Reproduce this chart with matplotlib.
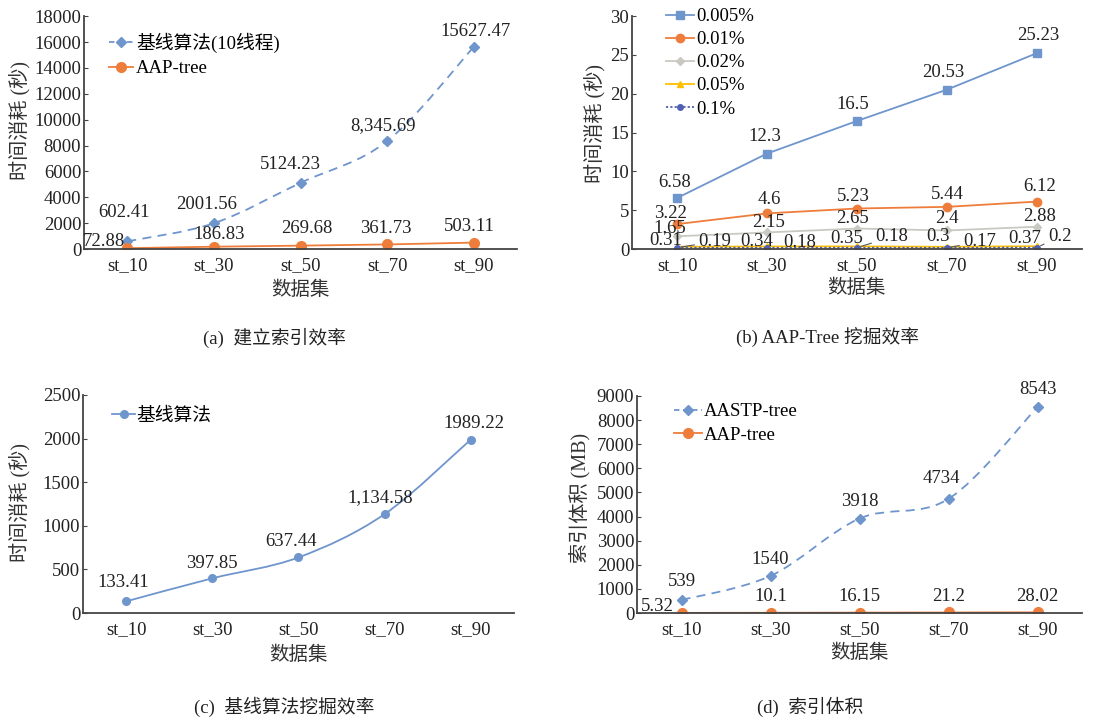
import numpy as np
import matplotlib
matplotlib.use('Agg')
import matplotlib.pyplot as plt
from matplotlib.path import Path
from matplotlib.patches import PathPatch
from matplotlib.lines import Line2D

plt.rcParams['font.family'] = ['Liberation Serif', 'Noto Sans CJK SC']
plt.rcParams['font.size'] = 13.5

datasets = ['st_10', 'st_30', 'st_50', 'st_70', 'st_90']

# (a) index build time (s)
build_baseline = [602.41, 2001.56, 5124.23, 8345.69, 15627.47]
build_aap = [72.88, 186.83, 269.68, 361.73, 503.11]

# (b) AAP-Tree mining time (s) per support threshold
support_labels = ['0.005%', '0.01%', '0.02%', '0.05%', '0.1%']
mine_005 = [6.58, 12.3, 16.5, 20.53, 25.23]
mine_01 = [3.22, 4.6, 5.23, 5.44, 6.12]
mine_02 = [1.65, 2.15, 2.65, 2.4, 2.88]
mine_05 = [0.31, 0.34, 0.35, 0.3, 0.37]
mine_1 = [0.19, 0.18, 0.18, 0.17, 0.2]

# (c) baseline mining time (s)
mine_baseline = [133.41, 397.85, 637.44, 1134.58, 1989.22]

# (d) index size (MB)
size_aastp = [539, 1540, 3918, 4734, 8543]
size_aap = [5.32, 10.1, 16.15, 21.2, 28.02]

BLUE = '#6f95cd'
ORANGE = '#ee7d3b'
GREY = '#c9c9c2'
YELLOW = '#ffc000'
NAVY = '#4f5fb3'
AXIS = '#444444'

x = np.arange(len(datasets))


def style_axes(ax, ymax, ystep):
    ax.set_xlim(-0.5, len(datasets) - 0.5)
    ax.set_ylim(0, ymax)
    ax.set_yticks(np.arange(0, ymax + 1e-9, ystep))
    ax.set_xticks(x)
    ax.set_xticklabels(datasets)
    for s in ('top', 'right'):
        ax.spines[s].set_visible(False)
    for s in ('left', 'bottom'):
        ax.spines[s].set_color(AXIS)
        ax.spines[s].set_linewidth(1.3)
    ax.tick_params(axis='x', length=0, pad=6, colors='#222222')
    ax.tick_params(axis='y', direction='in', length=3, pad=2, color=AXIS, colors='#222222')
    ax.patch.set_alpha(0)


def smooth(ax, xs, ys, **kw):
    # Bezier curve through the points, like a spreadsheet "smoothed line"
    pts = np.column_stack([xs, ys]).astype(float)
    n = len(pts)
    verts = [pts[0]]
    codes = [Path.MOVETO]
    for i in range(n - 1):
        p0 = pts[max(i - 1, 0)]
        p1 = pts[i]
        p2 = pts[i + 1]
        p3 = pts[min(i + 2, n - 1)]
        verts += [p1 + (p2 - p0) / 6, p2 - (p3 - p1) / 6, p2]
        codes += [Path.CURVE4] * 3
    ax.add_patch(PathPatch(Path(verts, codes), fill=False, **kw))


def value_labels(ax, ys, offsets, commas=(), leader=()):
    for i, (y, (dx, dy)) in enumerate(zip(ys, offsets)):
        txt = f'{y:,.2f}' if i in commas else str(y)
        kw = {}
        if i in leader:
            kw['arrowprops'] = dict(arrowstyle='-', color='#555555', lw=0.8,
                                    shrinkA=1, shrinkB=3)
        ax.annotate(txt, (x[i], y), xytext=(dx, dy), textcoords='offset pixels',
                    ha='center', va='center', color='#222222', **kw)


def axis_labels(ax, ylabel, ylx, yly, xly):
    ax.set_xlabel('数据集', va='center', color='#333333', fontsize=14)
    ax.xaxis.set_label_coords(0.5, xly)
    ax.set_ylabel(ylabel, va='center', color='#333333', fontsize=14.5)
    ax.yaxis.set_label_coords(ylx, yly)


fig = plt.figure(figsize=(11.05, 7.2), dpi=100)

# (a) index build efficiency
ax = fig.add_axes([0.076, 0.654, 0.392, 0.3236])
style_axes(ax, 18000, 2000)
smooth(ax, x, build_baseline, edgecolor=BLUE, lw=1.3, linestyle=(0, (5, 3.5)))
ax.plot(x, build_baseline, ls='none', marker='D', ms=5, color=BLUE)
ax.plot(x, build_aap, color=ORANGE, lw=1.3, marker='o', ms=7)
value_labels(ax, build_baseline, [(-3, 29), (-7, 19), (-10, 18), (-4, 15), (2, 15)], commas=(3,))
value_labels(ax, build_aap, [(-23, 7), (5, 12), (6, 17), (-1, 16), (-5, 16)])
handles = [Line2D([], [], color=BLUE, lw=1.3, ls=(0, (3, 2)), marker='D', ms=5),
           Line2D([], [], color=ORANGE, lw=1.3, marker='o', ms=7)]
ax.legend(handles, ['基线算法(10线程)', 'AAP-tree'], loc='upper left',
          bbox_to_anchor=(0.058, 0.93), frameon=False, handlelength=1.3,
          handletextpad=0.15, labelspacing=0.4, borderpad=0, borderaxespad=0)
axis_labels(ax, '时间消耗 (秒)', -0.148, 0.55, -0.176)

# (b) AAP-Tree mining efficiency
ax = fig.add_axes([0.572, 0.654, 0.407, 0.3236])
style_axes(ax, 30, 5)
series_b = [mine_005, mine_01, mine_02, mine_05, mine_1]
styles_b = [dict(color=BLUE, marker='s', ms=6, ls='-'),
            dict(color=ORANGE, marker='o', ms=6, ls='-'),
            dict(color=GREY, marker='D', ms=4.5, ls='-'),
            dict(color=YELLOW, marker='^', ms=5, ls='-'),
            dict(color=NAVY, marker='o', ms=4, ls=(0, (1.2, 1.2)))]
for vals, st, lab in zip(series_b, styles_b, support_labels):
    ax.plot(x, vals, lw=1.3, label=lab, **st)
value_labels(ax, mine_005, [(-2, 16), (-2, 17), (-4, 16), (-4, 17), (1, 18)])
value_labels(ax, mine_01, [(-7, 11), (2, 14), (-4, 12), (0, 12), (3, 15)])
value_labels(ax, mine_02, [(-7, 8), (2, 10), (-4, 10), (0, 12), (3, 10)])
value_labels(ax, mine_05, [(-11, 6), (-10, 5), (-10, 8), (-9, 10), (-12, 8)])
value_labels(ax, mine_1, [(38, 6), (33, 5), (35, 11), (33, 6), (23, 11)], leader=(0, 2, 3, 4))
ax.legend(loc='upper left', bbox_to_anchor=(0.075, 1.035), frameon=False,
          handlelength=1.5, handletextpad=0.1, labelspacing=0.32, borderpad=0,
          borderaxespad=0)
axis_labels(ax, '时间消耗 (秒)', -0.082, 0.54, -0.167)

# (c) baseline mining efficiency
ax = fig.add_axes([0.0751, 0.1486, 0.390, 0.3028])
style_axes(ax, 2500, 500)
smooth(ax, x, mine_baseline, edgecolor=BLUE, lw=1.3)
ax.plot(x, mine_baseline, ls='none', marker='o', ms=5.5, color=BLUE)
value_labels(ax, mine_baseline, [(-3, 19), (0, 15), (-7, 16), (-4, 16), (3, 16.5)], commas=(3,))
ax.legend([Line2D([], [], color=BLUE, lw=1.3, marker='o', ms=5.5)], ['基线算法'],
          loc='upper left', bbox_to_anchor=(0.068, 0.942), frameon=False,
          handlelength=1.2, handletextpad=0.1, borderpad=0, borderaxespad=0)
axis_labels(ax, '时间消耗 (秒)', -0.146, 0.505, -0.193)

# (d) index size
ax = fig.add_axes([0.5765, 0.1486, 0.4027, 0.3014])
style_axes(ax, 9000, 1000)
smooth(ax, x, size_aastp, edgecolor=BLUE, lw=1.3, linestyle=(0, (5, 3.5)))
ax.plot(x, size_aastp, ls='none', marker='D', ms=5, color=BLUE)
ax.plot(x, size_aap, color=ORANGE, lw=1.3, marker='o', ms=7)
value_labels(ax, size_aastp, [(0, 19), (0, 16), (0, 17.5), (-7, 20), (0, 18)])
value_labels(ax, size_aap, [(-24, 6), (0, 16), (0, 16), (0, 16), (0, 16)])
handles = [Line2D([], [], color=BLUE, lw=1.3, ls=(0, (3, 2)), marker='D', ms=5),
           Line2D([], [], color=ORANGE, lw=1.3, marker='o', ms=7)]
ax.legend(handles, ['AASTP-tree', 'AAP-tree'], loc='upper left',
          bbox_to_anchor=(0.083, 0.967), frameon=False, handlelength=1.5,
          handletextpad=0.1, labelspacing=0.35, borderpad=0, borderaxespad=0)
axis_labels(ax, '索引体积 (MB)', -0.128, 0.53, -0.184)

# subfigure captions
for cx, cy, cap in [(274, 338, '(a)  建立索引效率'), (828, 338, '(b) AAP-Tree 挖掘效率'),
                    (284, 707, '(c)  基线算法挖掘效率'), (810, 707, '(d)  索引体积')]:
    fig.text(cx / 1105, 1 - cy / 720, cap, ha='center', va='center', color='#222222')

fig.savefig('out.png', dpi=100)
